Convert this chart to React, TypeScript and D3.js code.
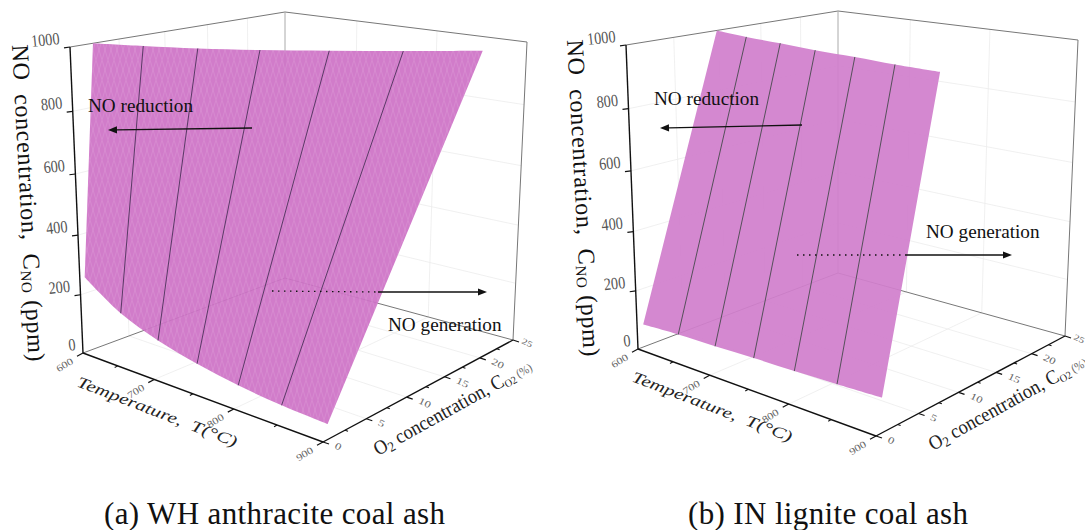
import React from "react";
import * as d3 from "d3";

const temps = [600, 650, 700, 750, 800, 850, 900];
const tTicks = [600, 700, 800, 900];
const tMinor = [650, 750, 850];
const o2Ticks = [0, 5, 10, 15, 20, 25];
const o2Minor = [2.5, 7.5, 12.5, 17.5, 22.5];
const noTicks = [0, 200, 400, 600, 800, 1000];
const noLow_a = [254, 171, 122, 90, 67, 53, 46];
const o2AtCap_a = [2.3, 3.7, 5.4, 7.8, 10.9, 14.5, 18.75];
const o2Low_a = 0.5;
const noLow_b = [77, 85, 88, 93, 96, 101, 107];
const o2AtCap_b = [9.8, 9.0, 8.5, 7.9, 7.6, 7.1, 6.9];
const o2Low_b = 0.65;
const noCap = 1000;

const uScale = d3.scaleLinear().domain([600, 900]).range([0, 1]);
const vScale = d3.scaleLinear().domain([0, 25]).range([0, 1]);
const zScale = d3.scaleLinear().domain([0, 1000]).range([0, 1]);

type P = [number, number];
type Box = { L0: P; F0: P; B0: P; R0: P; L1: P; F1: P; B1: P; R1: P; a: number; b: number; c: number };

const boxA: Box = { L0: [83, 353], F0: [323, 442], B0: [285, 278], R0: [513, 340], L1: [70, 47], F1: [326, 82], B1: [285, 12], R1: [527, 42], a: -0.155, b: 0.181, c: -0.06 };
const boxB: Box = { L0: [638, 349], F0: [876, 436], B0: [838, 273], R0: [1065, 336], L1: [626, 45], F1: [879, 86], B1: [838, 11], R1: [1078, 40], a: -0.137, b: 0.163, c: -0.056 };

const warp = (t: number, k: number) => ((1 + k) * t) / (1 + k * t);
const mix = (p: P, q: P, t: number): P => [p[0] + (q[0] - p[0]) * t, p[1] + (q[1] - p[1]) * t];

function projector(box: Box) {
  return (T: number, O: number, N: number): P => {
    const u = warp(uScale(T), box.a);
    const v = warp(vScale(O), box.b);
    const z = warp(zScale(N), box.c);
    const bottom = mix(mix(box.L0, box.F0, u), mix(box.B0, box.R0, u), v);
    const top = mix(mix(box.L1, box.F1, u), mix(box.B1, box.R1, u), v);
    return mix(bottom, top, z);
  };
}

const serif = "'Liberation Serif', serif";
const lineGen = d3.line<P>().curve(d3.curveCatmullRom.alpha(0.5));

type PanelProps = {
  box: Box; noLow: number[]; o2AtCap: number[]; o2Low: number; fill: string; mesh: boolean; lineColor: string;
  caption: string; captionX: number; captionW: number; dx: number; dy: number;
  reduction: { label: P; from: P; to: P }; generation: { label: P; dotFrom: P; solidFrom: P; to: P };
};

function Arrow({ from, to }: { from: P; to: P }) {
  const ang = Math.atan2(to[1] - from[1], to[0] - from[0]);
  const len = 9;
  const w = 3.6;
  const base: P = [to[0] - Math.cos(ang) * len, to[1] - Math.sin(ang) * len];
  const nx = -Math.sin(ang) * w;
  const ny = Math.cos(ang) * w;
  return (
    <g>
      <line x1={from[0]} y1={from[1]} x2={base[0]} y2={base[1]} stroke="#111" strokeWidth={1.3} />
      <polygon points={`${to[0]},${to[1]} ${base[0] + nx},${base[1] + ny} ${base[0] - nx},${base[1] - ny}`} fill="#111" />
    </g>
  );
}

function Panel(p: PanelProps) {
  const proj = projector(p.box);
  const O0 = 0, O1 = 25, N0 = 0, N1 = 1000, T0 = 600, T1 = 900;
  const seg = (a: P, b: P, stroke: string, w: number, key?: string) => (
    <line key={key} x1={a[0]} y1={a[1]} x2={b[0]} y2={b[1]} stroke={stroke} strokeWidth={w} />
  );
  const grid = "#ececec";

  const topPts = temps.map((t, i) => proj(t, p.o2AtCap[i], noCap));
  const lowPts = temps.map((t, i) => proj(t, p.o2Low, p.noLow[i]));
  const surface = (lineGen(topPts) as string) + "L" + (lineGen([...lowPts].reverse()) as string).slice(1) + "Z";

  return (
    <g>
      {noTicks.slice(1, -1).map((n) => (
        <g key={"gz" + n}>
          {seg(proj(T0, O0, n), proj(T0, O1, n), grid, 0.8)}
          {seg(proj(T0, O1, n), proj(T1, O1, n), grid, 0.8)}
        </g>
      ))}
      {tTicks.slice(1, -1).map((t) => (
        <g key={"gt" + t}>
          {seg(proj(t, O0, N0), proj(t, O1, N0), grid, 0.8)}
          {seg(proj(t, O1, N0), proj(t, O1, N1), grid, 0.8)}
        </g>
      ))}
      {o2Ticks.slice(1, -1).map((o) => (
        <g key={"go" + o}>
          {seg(proj(T0, o, N0), proj(T1, o, N0), grid, 0.8)}
          {seg(proj(T0, o, N0), proj(T0, o, N1), grid, 0.8)}
        </g>
      ))}
      {seg(proj(T0, O0, N1), proj(T0, O1, N1), "#777", 1)}
      {seg(proj(T0, O1, N1), proj(T1, O1, N1), "#777", 1)}
      {seg(proj(T0, O1, N0), proj(T0, O1, N1), "#aaa", 1)}
      {seg(proj(T1, O1, N0), proj(T1, O1, N1), "#777", 1)}
      {seg(proj(T0, O0, N0), proj(T0, O1, N0), "#777", 1)}
      {seg(proj(T0, O1, N0), proj(T1, O1, N0), "#777", 1)}

      <path d={surface} fill={p.fill} fillOpacity={0.93} />
      {p.mesh && <path d={surface} fill="url(#mesh)" />}
      {temps.slice(1, -1).map((t, i) => {
        const a = proj(t, p.o2Low, p.noLow[i + 1]);
        const b = proj(t, p.o2AtCap[i + 1], noCap);
        return seg(a, b, p.lineColor, 1, "l" + t);
      })}

      {seg(proj(T0, O0, N0), proj(T0, O0, N1), "#111", 1.4)}
      {seg(proj(T0, O0, N0), proj(T1, O0, N0), "#111", 1.4)}
      {seg(proj(T1, O0, N0), proj(T1, O1, N0), "#111", 1.4)}
      {noTicks.map((n) => {
        const q = proj(T0, O0, n);
        return (
          <g key={"zt" + n}>
            {n > 0 && seg(q, [q[0] - 6, q[1] + 0.8], "#111", 1.2)}
            <text transform={`translate(${q[0] - (n > 0 ? 10 : 7)},${q[1] - 3}) rotate(-6) scale(0.95,1.15)`} textAnchor="end" fontFamily={serif} fontSize={15} fill="#555">{n}</text>
          </g>
        );
      })}
      {tTicks.map((t) => {
        const q = proj(t, O0, N0);
        return (
          <g key={"tt" + t}>
            {seg(q, [q[0] - 6, q[1] + 3.2], "#111", 1.2)}
            <text transform={`translate(${q[0] - 9},${q[1] + 10}) rotate(-32) scale(1,0.82)`} textAnchor="end" fontFamily={serif} fontSize={12} fill="#666">{t}</text>
          </g>
        );
      })}
      {tMinor.map((t) => {
        const q = proj(t, O0, N0);
        return <g key={"tm" + t}>{seg(q, [q[0] - 3, q[1] + 1.7], "#111", 1.1)}</g>;
      })}
      {o2Ticks.map((o) => {
        const q = proj(T1, o, N0);
        return (
          <g key={"ot" + o}>
            {seg(q, [q[0] + 6, q[1] + 2], "#111", 1.2)}
            <text transform={`translate(${q[0] + (o === 25 ? 8 : 11)},${q[1] + (o === 25 ? 3 : 6)}) rotate(25) scale(1.05,0.8)`} fontFamily={serif} fontSize={o === 25 ? 10.5 : 12} fill="#666">{o}</text>
          </g>
        );
      })}
      {o2Minor.map((o) => {
        const q = proj(T1, o, N0);
        return <g key={"om" + o}>{seg(q, [q[0] + 3, q[1] + 1], "#111", 1.1)}</g>;
      })}

      <text transform={`translate(${12 + p.dx},${45 + p.dy}) rotate(87)`} fontFamily={serif} fontSize={24} fill="#111" letterSpacing={0.7} xmlSpace="preserve">
        NO  concentration,  C<tspan fontSize={15} dy={3}>NO</tspan><tspan dy={-3}> (ppm)</tspan>
      </text>
      <text transform={`translate(${76 + p.dx},${386 + p.dy}) rotate(21) scale(1.24,0.92)`} fontFamily={serif} fontSize={17} fontStyle="italic" fill="#222" xmlSpace="preserve">
        Temperature,  T(°C)
      </text>
      <text transform={`translate(${378 + p.dx},${456 + p.dy}) rotate(-29) scale(0.92,1)`} fontFamily={serif} fontSize={20} fill="#222" xmlSpace="preserve">
        O<tspan fontSize={14} dy={3}>2</tspan><tspan dy={-3}> concentration, C</tspan><tspan fontSize={11} dy={3}>O2</tspan><tspan dy={-3} fontSize={12} fill="#666"> (%)</tspan>
      </text>

      <text x={p.reduction.label[0]} y={p.reduction.label[1]} fontFamily={serif} fontSize={19.2} fill="#111">NO reduction</text>
      <Arrow from={p.reduction.from} to={p.reduction.to} />
      <text x={p.generation.label[0]} y={p.generation.label[1]} fontFamily={serif} fontSize={19.2} fill="#111">NO generation</text>
      <line x1={p.generation.dotFrom[0]} y1={p.generation.dotFrom[1]} x2={p.generation.solidFrom[0]} y2={p.generation.solidFrom[1]} stroke="#111" strokeWidth={1.3} strokeDasharray="1.5 4.5" />
      <Arrow from={p.generation.solidFrom} to={p.generation.to} />

      <text x={p.captionX} y={524} fontFamily={serif} fontSize={31} fill="#111" textLength={p.captionW} lengthAdjust="spacing">{p.caption}</text>
    </g>
  );
}

export default function App() {
  return (
    <svg width={1085} height={530} viewBox="0 0 1085 530" style={{ position: "absolute", left: 0, top: 0, background: "#fff" }}>
      <defs>
        <pattern id="mesh" patternUnits="userSpaceOnUse" width={6} height={20}>
          <path d="M0,0 L6,20 M6,0 L0,20" stroke="#fff" strokeOpacity={0.13} strokeWidth={0.8} fill="none" />
        </pattern>
      </defs>
      <Panel
        box={boxA} noLow={noLow_a} o2AtCap={o2AtCap_a} o2Low={o2Low_a} fill="#cd72c6" mesh lineColor="#5a3a66"
        caption="(a) WH anthracite coal ash" captionX={104} captionW={341} dx={0} dy={0}
        reduction={{ label: [88, 112], from: [252, 128], to: [108, 130] }}
        generation={{ label: [388, 331], dotFrom: [272, 291], solidFrom: [378, 292], to: [487, 292] }}
      />
      <Panel
        box={boxB} noLow={noLow_b} o2AtCap={o2AtCap_b} o2Low={o2Low_b} fill="#d17fcc" mesh={false} lineColor="#55505a"
        caption="(b) IN lignite coal ash" captionX={688} captionW={280} dx={555} dy={-5}
        reduction={{ label: [654, 105], from: [802, 125], to: [660, 128] }}
        generation={{ label: [926, 238], dotFrom: [797, 255], solidFrom: [905, 255], to: [1012, 255] }}
      />
    </svg>
  );
}
